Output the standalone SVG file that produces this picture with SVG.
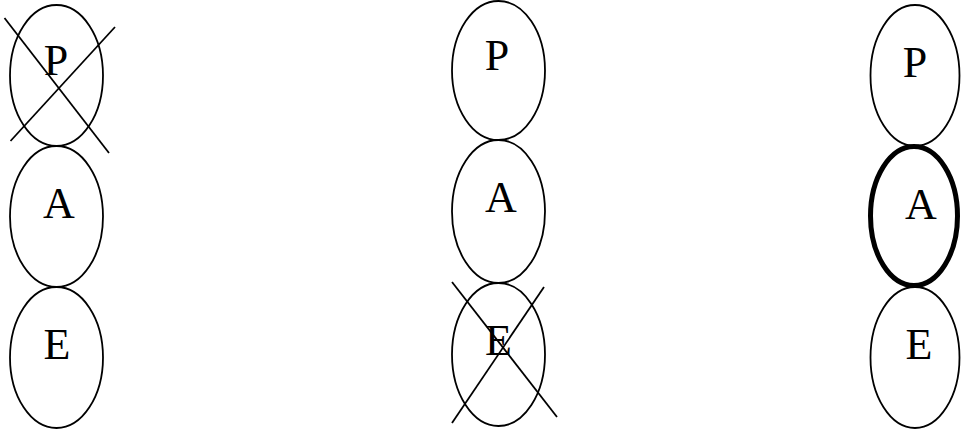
<svg xmlns="http://www.w3.org/2000/svg" width="961" height="435" viewBox="0 0 961 435">
<style>
.n{fill:none;stroke:#000;stroke-width:1.8}
.b{fill:none;stroke:#000;stroke-width:5}
.x{stroke:#000;stroke-width:1.8}
text{font-family:"Liberation Serif","Times New Roman",serif;font-size:44px;fill:#000;text-anchor:middle}
</style>
<rect width="961" height="435" fill="#fff"/>
<g id="left-P"><ellipse class="n" cx="56.5" cy="75.5" rx="46.5" ry="70.5"/><text x="56" y="75">P</text></g>
<g id="left-A"><ellipse class="n" cx="56.5" cy="216.5" rx="46.5" ry="70.5"/><text x="59" y="218">A</text></g>
<g id="left-E"><ellipse class="n" cx="56.5" cy="357.5" rx="46.5" ry="70.5"/><text x="57" y="359">E</text></g>
<g id="mid-P"><ellipse class="n" cx="498.5" cy="70.5" rx="46.5" ry="69.5"/><text x="497" y="70">P</text></g>
<g id="mid-A"><ellipse class="n" cx="498.5" cy="211.5" rx="46.5" ry="71.5"/><text x="501" y="212">A</text></g>
<g id="mid-E"><ellipse class="n" cx="498.5" cy="354.5" rx="46.5" ry="71.5"/><text x="498.5" y="355">E</text></g>
<g id="right-P"><ellipse class="n" cx="915" cy="75.5" rx="44.5" ry="70.5"/><text x="915" y="77">P</text></g>
<g id="right-A"><ellipse class="b" cx="914" cy="216" rx="43.5" ry="69.5"/><text x="921" y="219">A</text></g>
<g id="right-E"><ellipse class="n" cx="915" cy="357.5" rx="44.5" ry="70.5"/><text x="919" y="358.5">E</text></g>
<g id="connectors">
<line class="x" x1="4.5" y1="18" x2="109" y2="153"/>
<line class="x" x1="115" y1="27" x2="10.5" y2="141"/>
<line class="x" x1="452" y1="282" x2="557" y2="417"/>
<line class="x" x1="544" y1="287" x2="452" y2="423"/>
</g>
</svg>
